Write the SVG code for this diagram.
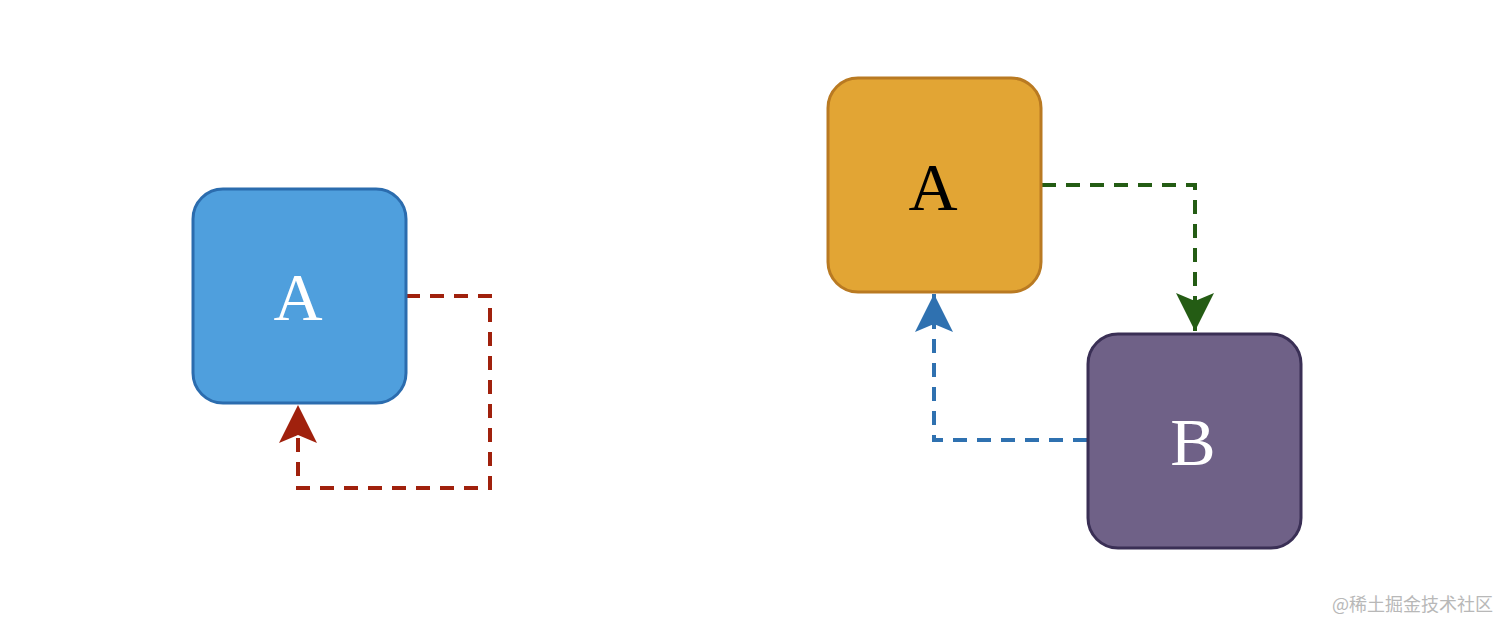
<svg xmlns="http://www.w3.org/2000/svg" width="1512" height="632" viewBox="0 0 1512 632">
<style>
.lbl{font-family:"Liberation Serif","DejaVu Serif",serif;font-size:68px;text-anchor:middle}
.c{fill:none;stroke-width:4;stroke-dasharray:14 10}
</style>
<defs>
<marker id="mr" markerUnits="userSpaceOnUse" viewBox="0 0 40 40" refX="40" refY="20" markerWidth="40" markerHeight="40" orient="auto"><path d="M40 20 L2 1 L10 20 L2 39 Z" fill="#a0210d"/></marker>
<marker id="mg" markerUnits="userSpaceOnUse" viewBox="0 0 40 40" refX="40" refY="20" markerWidth="40" markerHeight="40" orient="auto"><path d="M40 20 L2 1 L10 20 L2 39 Z" fill="#245c14"/></marker>
<marker id="mb" markerUnits="userSpaceOnUse" viewBox="0 0 40 40" refX="40" refY="20" markerWidth="40" markerHeight="40" orient="auto"><path d="M40 20 L2 1 L10 20 L2 39 Z" fill="#2f71b0"/></marker>
</defs>
<rect width="1512" height="632" fill="#fff"/>
<g id="connectors">
<path class="c" stroke="#a0210d" d="M406 296 H490 V488 H298 V405" marker-end="url(#mr)"/>
<path class="c" stroke="#245c14" d="M1042 185 H1195 V331" marker-end="url(#mg)"/>
<path class="c" stroke="#2f71b0" d="M1087 440 H934 V294" marker-end="url(#mb)"/>
</g>
<g id="nodeA1"><rect x="193" y="189" width="213" height="214" rx="30" fill="#4f9fdd" stroke="#2b6cae" stroke-width="3"/><text class="lbl" x="298" y="320" fill="#fff">A</text></g>
<g id="nodeA2"><rect x="828" y="78" width="213" height="214" rx="30" fill="#e2a534" stroke="#b97a22" stroke-width="3"/><text class="lbl" x="933" y="210" fill="#000">A</text></g>
<g id="nodeB"><rect x="1088" y="334" width="213" height="214" rx="30" fill="#6f6187" stroke="#3a2f55" stroke-width="3"/><text class="lbl" x="1193" y="465" fill="#fff">B</text></g>
<text x="1493" y="611" text-anchor="end" font-family="'Noto Sans CJK SC',sans-serif" font-size="18" fill="#b8b8b8">@稀土掘金技术社区</text>
</svg>
